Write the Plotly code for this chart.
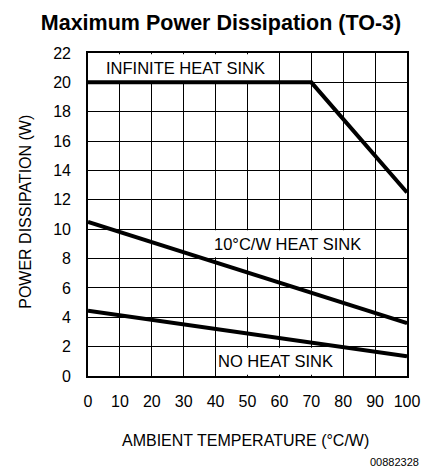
import plotly.graph_objects as go

# Data
temp_infinite = [0, 70, 100]
power_infinite = [20, 20, 12.5]
temp_10cw = [0, 100]
power_10cw = [10.5, 3.6]
temp_none = [0, 100]
power_none = [4.45, 1.35]

x_ticks = [0, 10, 20, 30, 40, 50, 60, 70, 80, 90, 100]
y_ticks = [0, 2, 4, 6, 8, 10, 12, 14, 16, 18, 20, 22]

label_infinite = "INFINITE HEAT SINK"
label_10cw = "10°C/W HEAT SINK"
label_none = "NO HEAT SINK"

W, H = 432, 470
L, R, T, B = 88, 21, 53, 94
PW, PH = W - L - R, H - T - B

FONT = "Liberation Sans, Arial, sans-serif"


def px_x(px):
    return (px - L) / PW


def px_y(py):
    return (H - B - py) / PH


fig = go.Figure()
for xs, ys in [(temp_infinite, power_infinite), (temp_10cw, power_10cw), (temp_none, power_none)]:
    fig.add_trace(go.Scatter(x=xs, y=ys, mode="lines",
                             line=dict(color="black", width=4),
                             showlegend=False, hoverinfo="skip"))

# White boxes behind labels (hide grid lines), drawn between grid and traces
boxes = [(1, 57, 20.08, 21.92), (33, 88, 8.08, 9.92), (41, 78, 0.08, 1.92)]
for x0, x1, y0, y1 in boxes:
    fig.add_shape(type="rect", xref="x", yref="y", x0=x0, x1=x1, y0=y0, y1=y1,
                  fillcolor="white", line=dict(width=0), layer="between")

ann_font = dict(family=FONT, size=16.5, color="black")
fig.add_annotation(x=30.6, y=21, xref="x", yref="y", text=label_infinite,
                   showarrow=False, font=ann_font)
fig.add_annotation(x=62.6, y=9, xref="x", yref="y", text=label_10cw,
                   showarrow=False, font=ann_font)
fig.add_annotation(x=58.7, y=1, xref="x", yref="y", text=label_none,
                   showarrow=False, font=ann_font)

# Axis titles and footnote
fig.add_annotation(x=px_x(247), y=px_y(440), xref="paper", yref="paper",
                   text="AMBIENT TEMPERATURE (°C/W)", showarrow=False,
                   xanchor="center", yanchor="middle",
                   font=dict(family=FONT, size=16, color="black"))
fig.add_annotation(x=px_x(24), y=px_y(212), xref="paper", yref="paper",
                   text="POWER DISSIPATION (W)", showarrow=False, textangle=-90,
                   xanchor="center", yanchor="middle",
                   font=dict(family=FONT, size=16, color="black"))
fig.add_annotation(x=px_x(425), y=px_y(462), xref="paper", yref="paper",
                   text="00882328", showarrow=False,
                   xanchor="right", yanchor="middle",
                   font=dict(family=FONT, size=11, color="black"))

fig.update_layout(
    width=W, height=H,
    margin=dict(l=L, r=R, t=T, b=B),
    paper_bgcolor="white", plot_bgcolor="white",
    title=dict(text="<b>Maximum Power Dissipation (TO-3)</b>",
               x=221 / W, xanchor="center", xref="container",
               y=1 - 22 / H, yanchor="middle", yref="container",
               font=dict(family=FONT, size=21.5, color="black")),
    xaxis=dict(range=[0, 100], tickvals=x_ticks, ticktext=[str(v) for v in x_ticks],
               showgrid=True, gridcolor="black", gridwidth=1.3,
               showline=True, linecolor="black", linewidth=1.6, mirror=True,
               zeroline=False, ticks="", ticklabelstandoff=10,
               tickfont=dict(family=FONT, size=16, color="black"), fixedrange=True),
    yaxis=dict(range=[0, 22], tickvals=y_ticks, ticktext=[str(v) for v in y_ticks],
               showgrid=True, gridcolor="black", gridwidth=1.3,
               showline=True, linecolor="black", linewidth=1.6, mirror=True,
               zeroline=False, ticks="", ticklabelstandoff=12,
               tickfont=dict(family=FONT, size=16, color="black"), fixedrange=True),
)

fig.write_html("out.html", config={"displayModeBar": False},
               post_script="document.body.style.margin='0';")
